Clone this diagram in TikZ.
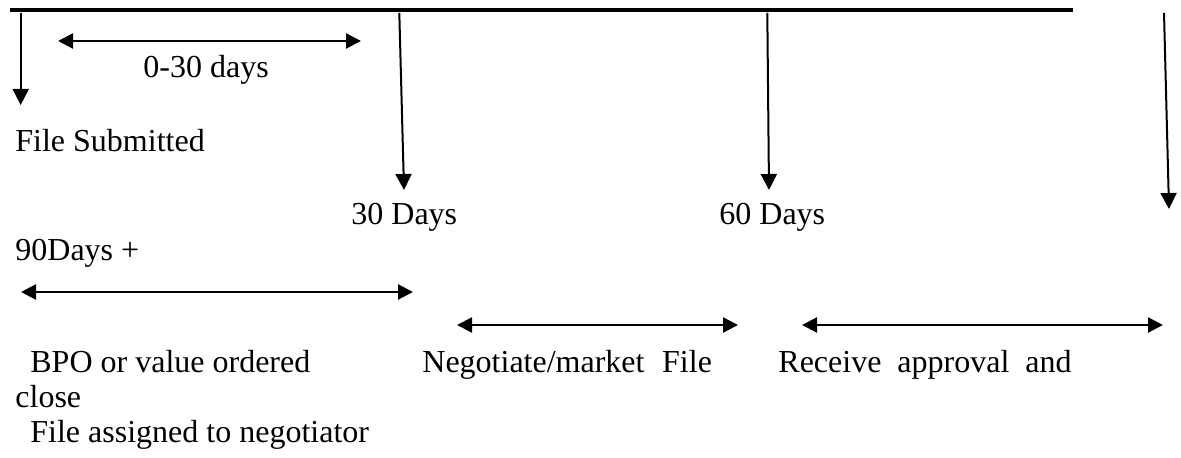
\documentclass[tikz,border=0pt]{standalone}
\usepackage{fontspec}
\setmainfont{Liberation Serif}
\usetikzlibrary{arrows.meta}
\begin{document}
\begin{tikzpicture}[x=0.5pt,y=-0.5pt,
  lbl/.style={anchor=base west, inner sep=0pt, font=\fontsize{16}{17.5}\selectfont},
  tick/.style={line width=1pt, -{Triangle[length=8pt,width=8pt]}},
  span/.style={line width=1.1pt, {Triangle[length=7.5pt,width=7.5pt]}-{Triangle[length=7.5pt,width=7.5pt]}},
  axis/.style={line width=1.7pt}]
\useasboundingbox (0,0) rectangle (1181,458);
% main line
\coordinate (L0) at (10,10);
\coordinate (L1) at (1073,10);
\draw[axis] (L0) -- (L1);
% tick arrows
\coordinate (t1a) at (20.7,13); \coordinate (t1b) at (20.7,105);
\coordinate (t2a) at (399.3,13); \coordinate (t2b) at (404,190);
\coordinate (t3a) at (767.3,13); \coordinate (t3b) at (769,190);
\coordinate (t4a) at (1164,13); \coordinate (t4b) at (1169,209);
\draw[tick] (t1a) -- (t1b);
\draw[tick] (t2a) -- (t2b);
\draw[tick] (t3a) -- (t3b);
\draw[tick] (t4a) -- (t4b);
% span arrows
\coordinate (s1a) at (58,41); \coordinate (s1b) at (361,41);
\coordinate (s2a) at (21,292); \coordinate (s2b) at (413,292);
\coordinate (s3a) at (457,325); \coordinate (s3b) at (738,325);
\coordinate (s4a) at (802,325); \coordinate (s4b) at (1163,325);
\draw[span] (s1a) -- (s1b);
\draw[span] (s2a) -- (s2b);
\draw[span] (s3a) -- (s3b);
\draw[span] (s4a) -- (s4b);
% labels
\node[lbl] (d030) at (143,78) {0-30 days};
\node[lbl] (fs) at (15,152) {File Submitted};
\node[lbl] (d30) at (351,225) {30 Days};
\node[lbl] (d60) at (719,225) {60 Days};
\node[lbl] (d90) at (15,261) {90Days +};
\node[lbl] (bpo) at (30,372) {BPO or value ordered};
\node[lbl] (close) at (15,408) {close};
\node[lbl] (fa) at (30,443) {File assigned to negotiator};
\node[lbl] (neg) at (422,372) {Negotiate/market\hspace{0.3em} File};
\node[lbl] (rec) at (778,372) {Receive\hspace{0.25em} approval\hspace{0.25em} and};
\end{tikzpicture}
\end{document}
